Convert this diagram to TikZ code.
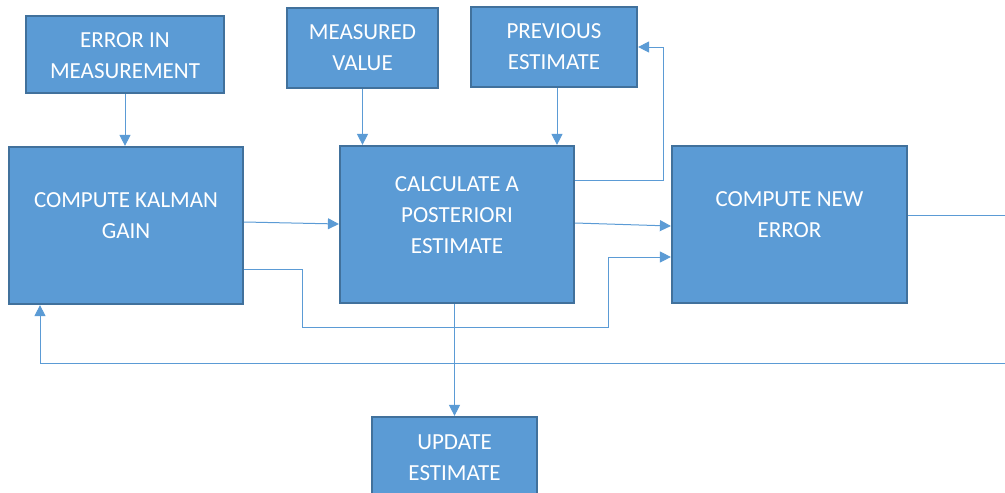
\documentclass[tikz,border=0pt]{standalone}
\usepackage{fontspec}
\setmainfont{Carlito}
\usetikzlibrary{arrows.meta,calc}
\definecolor{boxfill}{HTML}{5B9BD5}
\definecolor{boxedge}{HTML}{41719C}
\definecolor{wire}{HTML}{5B9BD5}
\tikzset{
  blk/.style={draw=boxedge, fill=boxfill, line width=2.2pt, rectangle, inner sep=0pt},
  lbl/.style={text=white, align=center, inner sep=0pt, font=\fontsize{23}{31}\selectfont},
  wireline/.style={draw=wire, line width=1pt},
  arr/.style={wireline, -{Triangle[width=11pt,length=11pt]}}
}
\begin{document}
\begin{tikzpicture}[x=1pt,y=-1pt]
\useasboundingbox (0,0) rectangle (1005,493);
\clip (0,0) rectangle (1005,493);

% blocks
\node[blk, minimum width=198pt, minimum height=77pt]  (em) at (125,54.5) {};
\node[blk, minimum width=151pt, minimum height=80pt]  (mv) at (362.5,48) {};
\node[blk, minimum width=166pt, minimum height=80pt]  (pe) at (554,47) {};
\node[blk, minimum width=234pt, minimum height=157pt] (kg) at (126,225.5) {};
\node[blk, minimum width=234pt, minimum height=157pt] (pa) at (457,224.5) {};
\node[blk, minimum width=235pt, minimum height=157pt] (ne) at (789.5,224.5) {};
\node[blk, minimum width=165pt, minimum height=80pt]  (ue) at (454.5,457) {};

% block captions
\node[lbl] (emt) at (125,56)    {ERROR IN\\MEASUREMENT};
\node[lbl] (mvt) at (362.5,48)  {MEASURED\\VALUE};
\node[lbl] (pet) at (554,46.5)  {PREVIOUS\\ESTIMATE};
\node[lbl] (kgt) at (126,215.5) {COMPUTE KALMAN\\GAIN};
\node[lbl] (pat) at (457,215.5) {CALCULATE A\\POSTERIORI\\ESTIMATE};
\node[lbl] (net) at (789.5,214.5) {COMPUTE NEW\\ERROR};
\node[lbl] (uet) at (454.5,457.5) {UPDATE\\ESTIMATE};

% free ends at the right margin
\coordinate (outR) at (1005,215);
\coordinate (inR)  at (1005,363);

% connectors
\draw[arr] (em.south) -- (em.south |- kg.north);
\draw[arr] (mv.south) -- (mv.south |- pa.north);
\draw[arr] ($(pe.south)+(3,0)$) -- ($(pe.south |- pa.north)+(3,0)$);
\draw[arr] (kg.east |- {(0,222)}) -- (pa.west |- {(0,224)});
\draw[arr] (kg.east |- {(0,269)}) -- (302,269) -- (302,327) -- (608,327) -- (608,257) -- (ne.west |- {(0,257)});
\draw[arr] (pa.east |- {(0,223)}) -- (ne.west |- {(0,226)});
\draw[arr] (pa.east |- {(0,180)}) -- (663,180) -- (663,47) -- (pe.east);
\draw[wireline] (ne.east |- outR) -- (outR);
\draw[arr] (inR) -- (40,363) -- (kg.south -| {(40,0)});
\draw[arr] (ue.north |- pa.south) -- (ue.north);
\end{tikzpicture}
\end{document}
